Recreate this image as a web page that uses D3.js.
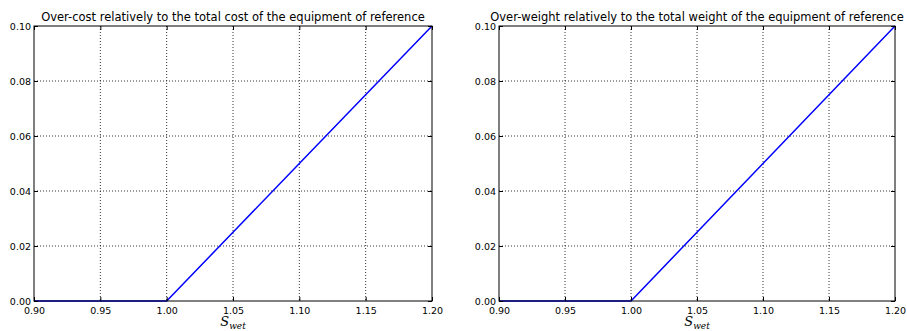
<!DOCTYPE html>
<html>
<head>
<meta charset="utf-8">
<script src="https://cdn.jsdelivr.net/npm/d3@7"></script>
<style>
  body { margin: 0; background: #fff; }
  svg { display: block; font-family: "DejaVu Sans", sans-serif; }
  .tick text { font-size: 9.5px; fill: #000; font-family: "DejaVu Sans", sans-serif; }
  .grid line { stroke: #000; stroke-dasharray: 1,2; stroke-width: 0.8; }
</style>
</head>
<body>
<div id="chart"></div>
<script>
const W = 907, H = 331;

// ── Data ──
const sWet = [0.90, 0.95, 1.00, 1.05, 1.10, 1.15, 1.20];
const overCost = [0, 0, 0, 0.025, 0.05, 0.075, 0.10];
const overWeight = [0, 0, 0, 0.025, 0.05, 0.075, 0.10];
const xTicks = [0.90, 0.95, 1.00, 1.05, 1.10, 1.15, 1.20];
const yTicks = [0.00, 0.02, 0.04, 0.06, 0.08, 0.10];
const titles = [
  'Over-cost relatively to the total cost of the equipment of reference',
  'Over-weight relatively to the total weight of the equipment of reference'
];

const svg = d3.select('#chart').append('svg').attr('width', W).attr('height', H);

const panels = [
  { left: 34, right: 432, values: overCost, title: titles[0] },
  { left: 499, right: 895, values: overWeight, title: titles[1] }
];
const plotTop = 26, plotBottom = 301;

panels.forEach(p => {
  const x = d3.scaleLinear().domain([0.9, 1.2]).range([p.left, p.right]);
  const y = d3.scaleLinear().domain([0, 0.1]).range([plotBottom, plotTop]);
  const g = svg.append('g');

  // grid
  const grid = g.append('g').attr('class', 'grid');
  grid.selectAll('.gx').data(xTicks.slice(1, -1)).enter().append('line')
    .attr('x1', d => x(d)).attr('x2', d => x(d)).attr('y1', plotTop).attr('y2', plotBottom);
  grid.selectAll('.gy').data(yTicks.slice(1, -1)).enter().append('line')
    .attr('x1', p.left).attr('x2', p.right).attr('y1', d => y(d)).attr('y2', d => y(d));

  // line
  const line = d3.line().x((d, i) => x(sWet[i])).y(d => y(d));
  g.append('path').datum(p.values).attr('d', line)
    .attr('fill', 'none').attr('stroke', '#0000ff').attr('stroke-width', 1.5);

  // frame
  g.append('rect').attr('x', p.left).attr('y', plotTop)
    .attr('width', p.right - p.left).attr('height', plotBottom - plotTop)
    .attr('fill', 'none').attr('stroke', '#000').attr('stroke-width', 1);

  // axes (ticks inward)
  const xa = g.append('g').attr('transform', `translate(0,${plotBottom})`)
    .call(d3.axisBottom(x).tickValues(xTicks).tickFormat(d3.format('.2f')).tickSizeInner(-4).tickSizeOuter(0).tickPadding(4));
  const xt = g.append('g').attr('transform', `translate(0,${plotTop})`)
    .call(d3.axisTop(x).tickValues(xTicks).tickFormat('').tickSizeInner(-4).tickSizeOuter(0));
  const ya = g.append('g').attr('transform', `translate(${p.left},0)`)
    .call(d3.axisLeft(y).tickValues(yTicks).tickFormat(d3.format('.2f')).tickSizeInner(-4).tickSizeOuter(0).tickPadding(3));
  const yr = g.append('g').attr('transform', `translate(${p.right},0)`)
    .call(d3.axisRight(y).tickValues(yTicks).tickFormat('').tickSizeInner(-4).tickSizeOuter(0));
  [xa, xt, ya, yr].forEach(a => { a.select('.domain').remove(); a.selectAll('line').attr('stroke', '#000'); });
  xa.selectAll('text').attr('dy', '0.9em');

  // title
  g.append('text').attr('x', (p.left + p.right) / 2).attr('y', plotTop - 5)
    .attr('text-anchor', 'middle').attr('font-size', '11.5px').text(p.title);

  // x label S_wet
  const lab = g.append('text').attr('x', (p.left + p.right) / 2).attr('y', 326)
    .attr('text-anchor', 'middle').attr('font-family', '"DejaVu Serif", serif')
    .attr('font-style', 'italic');
  lab.append('tspan').attr('font-size', '13px').text('S');
  lab.append('tspan').attr('font-size', '9px').attr('dy', 3).text('wet');
});
</script>
</body>
</html>
